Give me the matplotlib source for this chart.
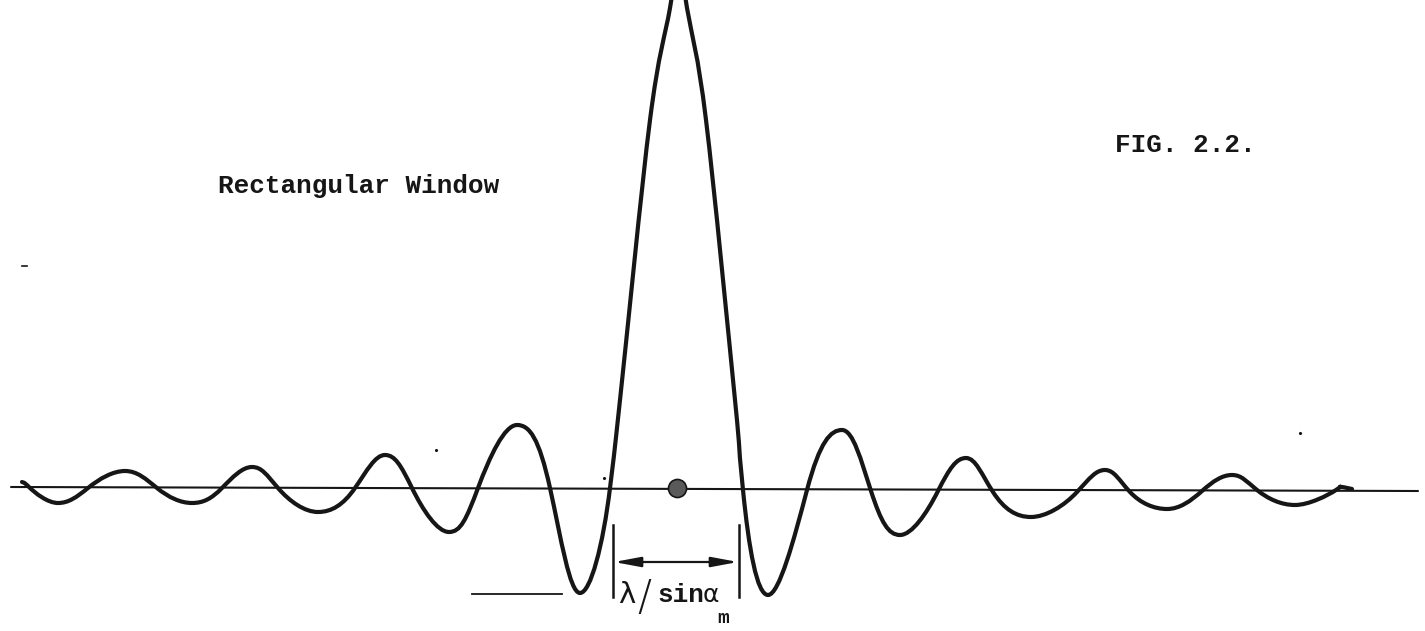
import numpy as np
import matplotlib.pyplot as plt
from matplotlib.path import Path
from matplotlib.patches import PathPatch

# --- curve key points: offset from centre, height above the axis line ---
curve_x = [-655, -648, -619, -589, -552, -520, -485, -455, -425, -399, -359, -322,
           -292, -265, -228, -199, -160, -127, -97, -67, -57, -27, -7, 1, 10, 29,
           58, 66, 91, 130, 165, 194, 223, 261, 289, 316, 354, 400, 428, 453,
           490, 525, 555, 580, 618, 659, 664, 675]
curve_y = [6, 1, -15, 0, 17, 0, -15, 0, 21, 0, -24, 0,
           33, 0, -44, 0, 63, 0, -105, 0, 88, 368, 480, 530, 480, 368,
           88, -2, -107, -2, 58, -3, -47, -3, 30, -4, -29, -4, 18, -4,
           -21, -3, 13, -2, -17, -2, 1, -1]

axis_x = [-666, 741]
axis_y = [1, -3]

# main-lobe width marker
bar_x = [-64, 62]
bar_y = [-37, -109]
arrow_y = -74
tick_x = [-205, -115]
tick_y = -106

title_text = "Rectangular Window"
fig_text = "FIG. 2.2."

TYPE = "Liberation Mono"
INK = "#161616"


def smooth_path(xs, ys):
    # cubic Beziers through the points; tangents are flat at the peaks and
    # steeper where the trace crosses the axis so the lobes come out round
    pts = np.column_stack([xs, ys]).astype(float)
    n = len(pts)
    tang = np.zeros_like(pts)
    for i in range(n):
        a = pts[max(i - 1, 0)]
        b = pts[min(i + 1, n - 1)]
        t = (b - a) / 2
        if 0 < i < n - 1:
            ya, yb, y = a[1], b[1], pts[i, 1]
            if (y - ya) * (y - yb) > 0:
                t[1] = 0
            elif ya * yb < 0 and abs(y) < 5:
                t[1] *= 1.7
        tang[i] = t * 1.05
    verts = [pts[0]]
    codes = [Path.MOVETO]
    for i in range(n - 1):
        verts += [pts[i] + tang[i] / 3, pts[i + 1] - tang[i + 1] / 3, pts[i + 1]]
        codes += [Path.CURVE4] * 3
    return Path(verts, codes)


fig = plt.figure(figsize=(14.25, 6.31), dpi=100)
ax = fig.add_axes([0, 0, 1, 1])
ax.set_xlim(-677, 748)
ax.set_ylim(-143, 488)
ax.axis("off")

# axis line
ax.plot(axis_x, axis_y, color=INK, lw=1.5, solid_capstyle="round")

# the window response
ax.add_patch(PathPatch(smooth_path(curve_x, curve_y), facecolor="none",
                       edgecolor=INK, lw=3.0, capstyle="round", joinstyle="round"))

# centre dot
ax.plot([0], [0], "o", ms=13, color="#5a5a5a", mec=INK, mew=1.2, zorder=5)

# width marker
for bx in bar_x:
    ax.plot([bx, bx], bar_y, color=INK, lw=1.8)
ax.annotate("", xy=(bar_x[0] + 1, arrow_y), xytext=(bar_x[1] - 1, arrow_y),
            arrowprops=dict(arrowstyle="<|-|>,head_length=1.6,head_width=0.3",
                            color=INK, lw=1.6, shrinkA=0, shrinkB=0,
                            facecolor="#6a6a6a"))
ax.plot(tick_x, [tick_y, tick_y], color=INK, lw=1.3)

# label lambda / sin alpha_m
ax.text(-50, -115, "λ", fontsize=21, family="DejaVu Sans", color=INK,
        ha="center", va="baseline")
ax.text(-33, -122, "/", fontsize=30, family="DejaVu Sans", color=INK,
        ha="center", va="baseline", fontweight="light")
ax.text(-20, -114, "sin", fontsize=18.7, family=TYPE, fontweight="bold",
        color=INK, ha="left", va="baseline")
ax.text(26, -114, "α", fontsize=18, family="DejaVu Sans", color=INK,
        ha="left", va="baseline")
ax.text(40, -135, "m", fontsize=14, family=TYPE, fontweight="bold",
        color=INK, ha="left", va="baseline")

# typed captions
ax.text(-459, 295, title_text, fontsize=18.7, family=TYPE, fontweight="bold",
        color=INK, ha="left", va="baseline")
ax.text(438, 336, fig_text, fontsize=18.7, family=TYPE, fontweight="bold",
        color=INK, ha="left", va="baseline")

# specks on the sheet
ax.plot([-655, -650], [222, 222], color=INK, lw=1.2)
ax.plot([-241, -73, 623], [38, 10, 55], ".", ms=2.5, color=INK)

fig.savefig("out.png", dpi=100)
